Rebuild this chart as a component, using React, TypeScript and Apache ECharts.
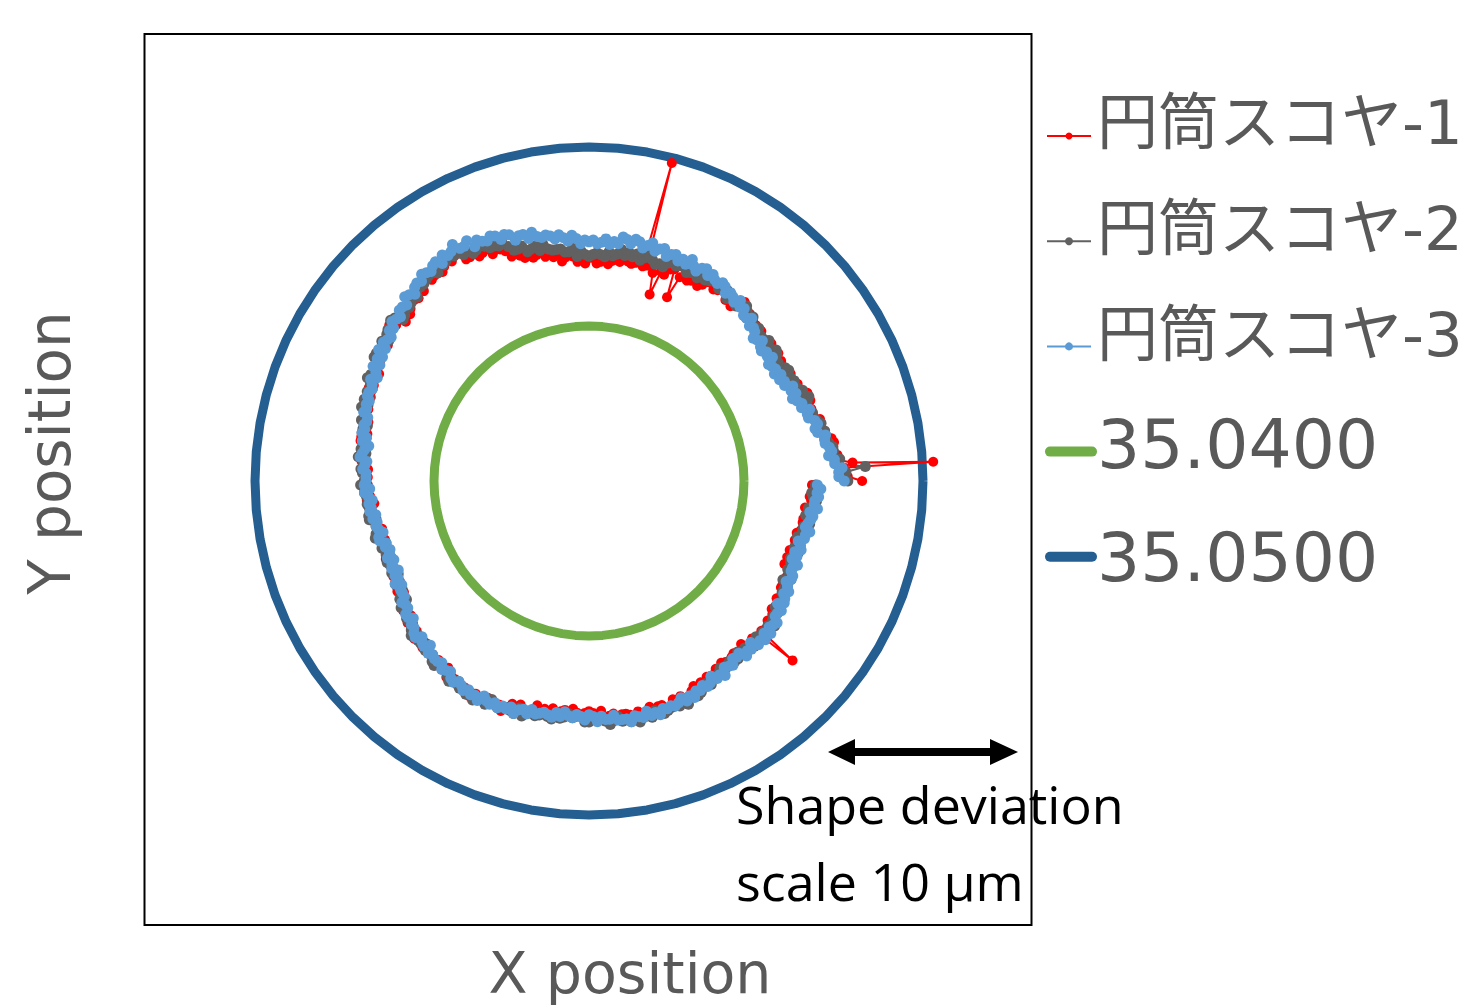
import React, { useEffect, useRef } from "react";
import * as echarts from "echarts";

// Nominal radius (mm) and reference circles
const NOMINAL = 35.04;
const SERIES_NAMES = ["円筒スコヤ-1", "円筒スコヤ-2", "円筒スコヤ-3"];
const CIRCLE_NAMES = ["35.0400", "35.0500"];
const CIRCLE_RADII = [35.04, 35.05];
const ANGLE_STEP = 1; // degrees between measured points

// Radial deviation from 35.0400 mm, in µm, every 1° from 0° (counter-clockwise from +X); one row = 10°
const DEV1 = [
  6.6, 5.8, 5.4, 5.6, 6.1, 5.1, 5.3, 5.1, 5.0, 5.2,
  5.1, 4.7, 4.7, 4.6, 4.7, 4.7, 4.4, 4.1, 4.4, 4.1,
  4.5, 4.2, 4.5, 4.2, 4.1, 4.2, 3.9, 4.0, 4.1, 3.9,
  3.8, 3.9, 4.0, 3.7, 4.1, 4.0, 3.9, 4.1, 4.0, 3.9,
  3.8, 4.1, 3.8, 4.1, 4.1, 4.0, 4.3, 4.3, 4.3, 4.6,
  4.2, 3.9, 4.1, 4.0, 4.3, 4.4, 4.2, 4.1, 4.4, 4.3,
  4.0, 3.8, 4.1, 3.9, 3.8, 4.1, 3.8, 2.5, 4.1, 4.0,
  3.6, 3.7, 2.3, 3.5, 3.9, 3.8, 3.7, 3.9, 3.8, 3.7,
  3.8, 4.0, 3.7, 3.8, 3.7, 3.5, 3.8, 3.6, 3.5, 3.8,
  3.8, 3.5, 3.7, 3.6, 3.9, 4.0, 3.9, 3.7, 4.1, 4.0,
  4.2, 4.1, 4.4, 4.3, 4.2, 4.5, 4.3, 4.5, 4.7, 4.6,
  5.0, 5.2, 5.3, 5.1, 5.5, 5.4, 5.3, 5.6, 5.5, 5.5,
  6.0, 6.1, 5.8, 6.0, 5.8, 5.6, 5.8, 5.7, 5.6, 5.8,
  5.8, 5.4, 5.5, 5.3, 5.4, 5.5, 5.2, 5.0, 5.2, 4.9,
  5.5, 5.2, 5.5, 5.2, 5.1, 5.2, 4.9, 5.0, 5.1, 4.9,
  4.8, 4.8, 4.9, 4.5, 4.9, 4.7, 4.5, 4.7, 4.5, 4.4,
  4.5, 4.6, 4.3, 4.4, 4.3, 4.1, 4.3, 4.2, 4.0, 4.3,
  4.3, 3.9, 4.0, 3.9, 4.1, 4.1, 3.9, 3.7, 4.0, 3.7,
  3.9, 3.7, 3.9, 3.7, 3.6, 3.8, 3.4, 3.6, 3.7, 3.5,
  3.4, 3.5, 3.5, 3.2, 3.6, 3.4, 3.2, 3.4, 3.3, 3.1,
  3.3, 3.5, 3.2, 3.4, 3.3, 3.2, 3.5, 3.4, 3.3, 3.6,
  3.7, 3.4, 3.6, 3.6, 3.9, 4.0, 3.9, 3.8, 4.2, 4.0,
  4.3, 4.1, 4.5, 4.3, 4.2, 4.5, 4.2, 4.4, 4.5, 4.5,
  4.4, 4.6, 4.7, 4.4, 4.9, 4.7, 4.7, 4.9, 4.9, 4.8,
  5.0, 5.1, 4.8, 5.0, 4.9, 4.7, 4.9, 4.8, 4.8, 5.1,
  4.8, 4.5, 4.6, 4.4, 4.6, 4.7, 4.5, 4.2, 4.5, 4.3,
  4.5, 4.2, 4.5, 4.3, 4.2, 4.4, 4.1, 4.3, 4.4, 4.3,
  4.2, 4.3, 4.5, 4.2, 4.6, 4.5, 4.4, 4.6, 4.5, 4.5,
  4.6, 4.8, 4.5, 4.7, 4.6, 4.4, 4.6, 4.5, 4.5, 4.8,
  4.8, 4.4, 4.5, 4.4, 4.6, 4.6, 4.4, 4.2, 4.5, 4.2,
  4.4, 4.1, 4.4, 4.2, 4.0, 4.2, 3.9, 4.0, 4.1, 4.0,
  3.9, 4.0, 4.1, 3.8, 4.3, 4.1, 4.0, 4.2, 4.2, 4.1,
  4.2, 4.4, 4.0, 4.2, 4.0, 3.8, 4.0, 3.9, 3.7, 4.0,
  3.9, 3.6, 3.6, 3.5, 3.6, 3.7, 3.5, 3.2, 3.5, 3.2,
  3.4, 3.2, 3.6, 3.4, 3.3, 3.5, 3.3, 3.5, 3.6, 3.5,
  3.5, 3.6, 3.7, 3.5, 3.9, 3.8, 3.7, 3.9, 3.9, 3.8,
];
// Isolated outlier points of series 1: [angle°, deviation µm]
const SPIKES1 = [
  [3.2, 10.6],
  [75.4, 9.7],
  [318.6, 6.5],
];
const DEV2 = [
  5.8, 5.5, 5.7, 6.8, 5.2, 5.4, 5.0, 5.1, 5.1, 4.9,
  4.8, 4.8, 4.8, 4.4, 4.7, 4.5, 4.3, 4.4, 4.2, 4.0,
  4.3, 4.5, 4.1, 4.3, 4.1, 3.9, 4.1, 4.0, 3.8, 4.1,
  4.0, 3.7, 3.8, 3.8, 4.0, 4.1, 3.9, 3.7, 4.1, 3.9,
  3.9, 3.8, 4.1, 4.0, 4.0, 4.3, 4.0, 4.3, 4.5, 4.4,
  4.1, 4.2, 4.3, 4.1, 4.5, 4.4, 4.3, 4.5, 4.5, 4.4,
  4.3, 4.5, 4.2, 4.4, 4.3, 4.2, 4.5, 4.4, 4.3, 4.6,
  4.3, 4.0, 4.1, 4.0, 4.2, 4.4, 4.2, 4.0, 4.3, 4.1,
  4.3, 4.1, 4.4, 4.1, 4.0, 4.2, 3.9, 4.0, 4.1, 4.0,
  3.9, 4.0, 4.2, 3.9, 4.4, 4.2, 4.2, 4.4, 4.4, 4.4,
  4.5, 4.8, 4.5, 4.8, 4.7, 4.6, 5.0, 4.9, 4.9, 5.2,
  5.6, 5.4, 5.5, 5.5, 5.7, 5.9, 5.7, 5.6, 5.9, 5.8,
  6.2, 6.0, 6.2, 6.0, 5.9, 6.0, 5.7, 5.9, 5.9, 5.8,
  5.7, 5.7, 5.7, 5.4, 5.7, 5.4, 5.3, 5.4, 5.2, 5.1,
  5.5, 5.6, 5.3, 5.4, 5.3, 5.0, 5.3, 5.1, 5.0, 5.2,
  5.2, 4.8, 4.9, 4.7, 4.9, 5.0, 4.7, 4.5, 4.7, 4.5,
  4.7, 4.4, 4.7, 4.4, 4.3, 4.5, 4.1, 4.3, 4.3, 4.2,
  4.1, 4.1, 4.2, 3.9, 4.3, 4.0, 3.9, 4.1, 4.0, 3.8,
  3.9, 4.1, 3.7, 3.9, 3.8, 3.6, 3.8, 3.7, 3.6, 3.8,
  3.8, 3.5, 3.5, 3.4, 3.6, 3.7, 3.4, 3.2, 3.5, 3.2,
  3.4, 3.2, 3.5, 3.4, 3.3, 3.5, 3.2, 3.4, 3.6, 3.5,
  3.4, 3.6, 3.8, 3.5, 4.0, 3.9, 3.9, 4.1, 4.1, 4.1,
  4.3, 4.5, 4.2, 4.4, 4.4, 4.2, 4.5, 4.5, 4.4, 4.7,
  4.8, 4.5, 4.6, 4.6, 4.8, 5.0, 4.8, 4.7, 5.0, 4.9,
  5.1, 4.9, 5.2, 5.0, 4.9, 5.1, 4.7, 4.9, 5.0, 4.9,
  4.8, 4.9, 5.0, 4.6, 5.0, 4.8, 4.7, 4.8, 4.7, 4.6,
  4.7, 4.8, 4.5, 4.7, 4.6, 4.4, 4.6, 4.5, 4.5, 4.8,
  4.8, 4.5, 4.7, 4.6, 4.8, 5.0, 4.8, 4.6, 4.9, 4.8,
  5.0, 4.8, 5.1, 4.9, 4.8, 5.0, 4.7, 4.9, 5.0, 4.9,
  4.8, 4.8, 4.9, 4.6, 5.0, 4.7, 4.6, 4.8, 4.7, 4.5,
  4.4, 4.6, 4.2, 4.4, 4.3, 4.1, 4.3, 4.2, 4.1, 4.3,
  4.3, 4.0, 4.2, 4.1, 4.3, 4.4, 4.3, 4.1, 4.4, 4.2,
  4.5, 4.2, 4.5, 4.2, 4.1, 4.2, 3.9, 4.0, 4.1, 4.0,
  3.8, 3.8, 3.9, 3.5, 3.9, 3.7, 3.5, 3.7, 3.5, 3.4,
  3.5, 3.7, 3.4, 3.6, 3.6, 3.4, 3.7, 3.6, 3.6, 3.9,
  3.9, 3.6, 3.8, 3.7, 4.0, 4.1, 3.9, 3.8, 4.1, 4.0,
];
const DEV3 = [
  5.6, 5.3, 5.3, 5.5, 5.1, 5.1, 4.8, 5.0, 4.9, 4.7,
  4.7, 4.8, 4.4, 4.3, 4.5, 4.4, 4.1, 4.1, 4.3, 3.9,
  4.0, 3.8, 3.6, 3.9, 3.7, 3.9, 3.5, 3.6, 3.4, 3.6,
  3.3, 3.5, 3.4, 3.3, 3.7, 3.5, 3.6, 3.4, 3.5, 3.8,
  3.6, 3.5, 3.8, 3.9, 3.8, 4.2, 4.0, 4.0, 4.3, 4.2,
  4.5, 4.2, 4.4, 4.5, 4.3, 4.6, 4.7, 4.5, 4.6, 4.8,
  4.6, 4.9, 4.8, 4.5, 4.7, 5.0, 4.6, 4.8, 4.6, 4.9,
  4.8, 4.6, 5.0, 4.9, 4.7, 5.1, 4.9, 4.7, 5.0, 5.1,
  4.8, 5.0, 5.1, 4.7, 4.8, 4.6, 4.9, 4.7, 4.6, 4.8,
  4.7, 4.8, 4.6, 4.9, 5.1, 4.8, 5.0, 5.2, 5.0, 5.2,
  5.3, 5.2, 5.3, 5.6, 5.3, 5.6, 5.6, 5.4, 5.8, 5.9,
  5.7, 6.0, 6.1, 5.9, 6.0, 6.2, 5.9, 6.4, 6.2, 6.2,
  6.6, 6.3, 6.2, 6.4, 6.0, 6.3, 6.2, 6.0, 6.1, 6.2,
  5.9, 6.0, 5.9, 5.6, 5.8, 5.9, 5.5, 5.6, 5.6, 5.3,
  5.4, 5.5, 5.2, 5.3, 5.0, 5.1, 5.2, 4.9, 5.2, 4.8,
  5.0, 4.7, 5.0, 4.7, 4.5, 4.8, 4.6, 4.5, 4.6, 4.6,
  4.4, 4.5, 4.4, 4.5, 4.2, 4.2, 4.3, 4.2, 4.3, 4.0,
  4.2, 3.8, 4.0, 4.1, 4.2, 3.8, 3.9, 4.0, 3.8, 3.8,
  3.8, 3.9, 3.6, 3.9, 3.7, 3.5, 3.7, 3.6, 3.7, 3.4,
  3.6, 3.4, 3.5, 3.4, 3.2, 3.5, 3.5, 3.2, 3.3, 3.1,
  3.2, 3.4, 3.1, 3.3, 3.4, 3.1, 3.4, 3.3, 3.6, 3.3,
  3.5, 3.5, 3.5, 3.8, 3.7, 3.7, 4.0, 4.0, 3.8, 4.1,
  4.1, 4.3, 4.4, 4.1, 4.3, 4.4, 4.1, 4.5, 4.4, 4.5,
  4.5, 4.4, 4.7, 4.6, 4.5, 4.8, 4.9, 4.7, 4.8, 5.0,
  4.8, 5.0, 4.9, 5.1, 4.7, 4.9, 5.0, 4.8, 5.0, 4.8,
  4.9, 4.7, 5.0, 4.7, 4.6, 4.8, 4.5, 4.7, 4.6, 4.5,
  4.6, 4.7, 4.4, 4.6, 4.3, 4.5, 4.6, 4.4, 4.5, 4.7,
  4.4, 4.5, 4.8, 4.5, 4.7, 4.7, 4.5, 4.8, 4.8, 4.8,
  5.0, 4.7, 4.8, 4.9, 4.6, 4.9, 4.8, 5.0, 4.7, 4.8,
  4.7, 4.8, 4.7, 4.5, 4.8, 4.6, 4.8, 4.5, 4.6, 4.4,
  4.6, 4.5, 4.2, 4.5, 4.4, 4.6, 4.2, 4.3, 4.4, 4.1,
  4.2, 4.1, 4.5, 4.3, 4.4, 4.1, 4.5, 4.4, 4.6, 4.3,
  4.6, 4.3, 4.4, 4.5, 4.2, 4.2, 4.3, 3.9, 4.2, 4.1,
  3.9, 4.1, 3.9, 3.7, 3.9, 3.9, 3.7, 3.7, 3.9, 3.5,
  3.7, 3.5, 3.8, 3.7, 3.5, 3.8, 3.8, 4.0, 3.7, 3.8,
  3.9, 4.0, 3.8, 4.2, 4.0, 4.0, 4.2, 4.1, 4.3, 4.1,
];
const CIRCLE_ANGLES = Array.from({ length: 73 }, (_, i) => i * 5);

const COLORS = ["#FF0000", "#616161", "#5B9BD5"];
const CIRCLE_COLORS = ["#70AD47", "#255E91"];
const ALL_NAMES = [...SERIES_NAMES, ...CIRCLE_NAMES];
const ALL_COLORS = [...COLORS, ...CIRCLE_COLORS];

// radial scale: 155 px at 35.04 mm, 179 px per 0.01 mm
const R_MIN = 35.0313408;
const R_MAX = 35.0562011;

function buildSeriesData(dev: number[], extra: number[][] = []) {
  const pts = dev.map((d, i) => [i * ANGLE_STEP, d]);
  extra.forEach((p) => pts.push(p));
  pts.sort((a, b) => a[0] - b[0]);
  return pts.map(([a, d]) => [NOMINAL + d / 1000, a]);
}

export default function App() {
  const ref = useRef<HTMLDivElement>(null);
  useEffect(() => {
    if (!ref.current) return;
    const chart = echarts.init(ref.current, null, { renderer: "svg" });
    const devs = [DEV1, DEV2, DEV3];
    const extras = [SPIKES1, [], []];
    const jp = '"DejaVu Sans", "Noto Sans CJK JP", sans-serif';
    const LEG_X = 1047;
    const LEG_W = 44;
    const LEG_Y0 = 136;
    const LEG_STEP = 105.2;
    const legendIcons: any[] = [];
    ALL_NAMES.forEach((_, i) => {
      const y = LEG_Y0 + i * LEG_STEP;
      if (i < 3) {
        legendIcons.push({
          type: "line",
          shape: { x1: LEG_X, y1: y, x2: LEG_X + LEG_W, y2: y },
          style: { stroke: ALL_COLORS[i], lineWidth: 2 },
        });
        legendIcons.push({
          type: "circle",
          shape: { cx: LEG_X + LEG_W / 2, cy: y, r: i === 0 ? 3.5 : 4 },
          style: { fill: ALL_COLORS[i] },
        });
      } else {
        legendIcons.push({
          type: "line",
          shape: { x1: LEG_X + 3, y1: y, x2: LEG_X + LEG_W + 1, y2: y },
          style: { stroke: ALL_COLORS[i], lineWidth: 10, lineCap: "round" },
        });
      }
    });
    chart.setOption({
      animation: false,
      backgroundColor: "#ffffff",
      polar: { center: [589, 481], radius: 445 },
      angleAxis: {
        type: "value", min: 0, max: 360, startAngle: 0, clockwise: false, show: false,
        axisLine: { show: false }, axisTick: { show: false }, axisLabel: { show: false }, splitLine: { show: false },
      },
      radiusAxis: {
        type: "value", min: R_MIN, max: R_MAX, show: false,
        axisLine: { show: false }, axisTick: { show: false }, axisLabel: { show: false }, splitLine: { show: false },
      },
      legend: {
        orient: "vertical",
        left: 1042,
        top: 87,
        itemWidth: 45,
        itemHeight: 10,
        itemGap: 45,
        selectedMode: false,
        icon: "rect",
        itemStyle: { opacity: 0 },
        lineStyle: { opacity: 0 },
        textStyle: { color: "#595959", fontFamily: jp, fontSize: 61, lineHeight: 60 },
        data: [
          { name: SERIES_NAMES[0] },
          { name: SERIES_NAMES[1] },
          { name: SERIES_NAMES[2] },
          { name: CIRCLE_NAMES[0], textStyle: { fontSize: 68 } },
          { name: CIRCLE_NAMES[1], textStyle: { fontSize: 68 } },
        ],
      },
      series: [
        ...CIRCLE_NAMES.map((name, k) => ({
          name,
          type: "line",
          coordinateSystem: "polar",
          showSymbol: false,
          symbol: "none",
          data: CIRCLE_ANGLES.map((a) => [CIRCLE_RADII[k], a]),
          lineStyle: { color: CIRCLE_COLORS[k], width: 9 },
          itemStyle: { color: CIRCLE_COLORS[k] },
          emphasis: { disabled: true },
          silent: true,
        })),
        ...SERIES_NAMES.map((name, k) => ({
          name,
          type: "line",
          coordinateSystem: "polar",
          symbol: "circle",
          symbolSize: k === 0 ? 10 : 11,
          showSymbol: true,
          showAllSymbol: true,
          clip: false,
          data: buildSeriesData(devs[k], extras[k]),
          lineStyle: { color: COLORS[k], width: 2 },
          itemStyle: { color: COLORS[k] },
          emphasis: { disabled: true },
          silent: true,
        })),
      ],
      graphic: [
        {
          type: "rect",
          shape: { x: 144.5, y: 34, width: 887, height: 891 },
          style: { fill: "none", stroke: "#000", lineWidth: 2 },
          z: 0,
        },
        ...legendIcons,
        {
          type: "polygon",
          shape: {
            points: [
              [828, 752], [855, 739], [855, 748], [990, 748], [990, 739],
              [1018, 752], [990, 765], [990, 756], [855, 756], [855, 765],
            ],
          },
          style: { fill: "#000" },
        },
        {
          type: "text", x: 736, y: 803,
          style: { text: "Shape deviation", fill: "#000", fontSize: 52, fontFamily: '"Open Sans", sans-serif', align: "left", verticalAlign: "middle" },
        },
        {
          type: "text", x: 736, y: 880,
          style: { text: "scale 10 μm", fill: "#000", fontSize: 52, fontFamily: '"Open Sans", sans-serif', align: "left", verticalAlign: "middle" },
        },
        {
          type: "text", x: 630, y: 973,
          style: { text: "X position", fill: "#595959", fontSize: 57, fontFamily: '"DejaVu Sans", sans-serif', align: "center", verticalAlign: "middle" },
        },
        {
          type: "text", x: 50, y: 453, rotation: Math.PI / 2,
          style: { text: "Y position", fill: "#595959", fontSize: 58, fontFamily: '"DejaVu Sans", sans-serif', align: "center", verticalAlign: "middle" },
        },
      ],
    });
    return () => chart.dispose();
  }, []);
  return (
    <div
      ref={ref}
      style={{ position: "absolute", left: 0, top: 0, width: 1467, height: 1006 }}
    />
  );
}
